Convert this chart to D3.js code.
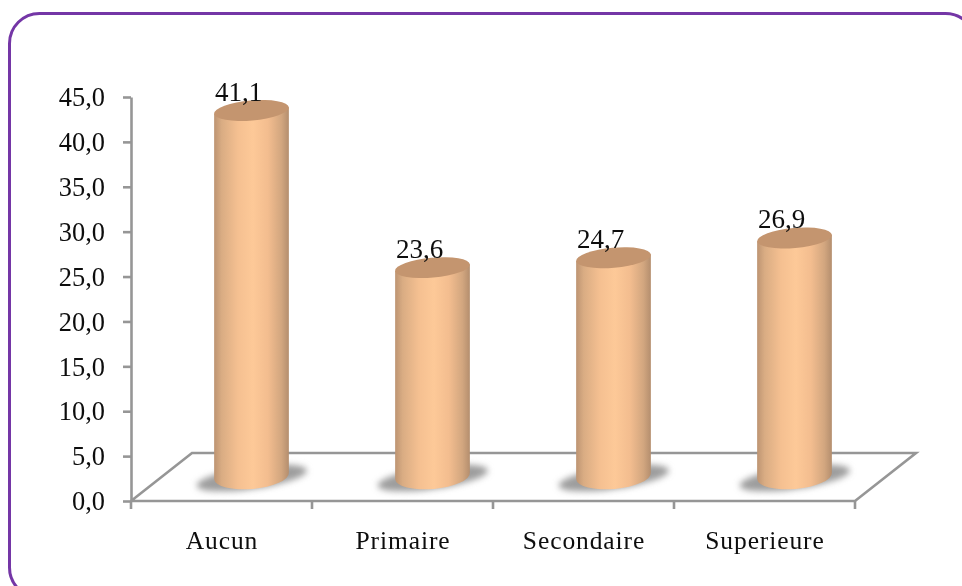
<!DOCTYPE html>
<html><head><meta charset="utf-8">
<script src="https://cdn.jsdelivr.net/npm/d3@7"></script>
<style>html,body{margin:0;padding:0;background:#fff;overflow:hidden}svg{display:block}
text{font-family:"Liberation Serif",serif;fill:#0c0c0c}</style></head><body>
<script>
const categories = ["Aucun","Primaire","Secondaire","Superieure"];
const values = [41.1,23.6,24.7,26.9];
const valueLabels = ["41,1","23,6","24,7","26,9"];
const yTicks = [0,5,10,15,20,25,30,35,40,45];

const W=962,H=586;
const svg=d3.select("body").append("svg").attr("width",W).attr("height",H);
const defs=svg.append("defs");
const grad=defs.append("linearGradient").attr("id","cyl").attr("x1",0).attr("x2",1).attr("y1",0).attr("y2",0);
[[0,"#bd9472"],[0.1,"#d9ac83"],[0.32,"#f5c091"],[0.52,"#fdc998"],[0.72,"#f3bd8f"],[0.9,"#d2a67f"],[1,"#b48e6e"]]
 .forEach(([o,c])=>grad.append("stop").attr("offset",o).attr("stop-color",c));
defs.append("filter").attr("id","blur").attr("x","-30%").attr("y","-60%").attr("width","160%").attr("height","220%")
 .append("feGaussianBlur").attr("stdDeviation",3);
defs.append("filter").attr("id","soft").attr("x","-5%").attr("y","-5%").attr("width","110%").attr("height","110%")
 .append("feGaussianBlur").attr("stdDeviation",0.5);

svg.append("rect").attr("x",9.5).attr("y",13.5).attr("width",966).attr("height",584).attr("rx",30)
  .attr("fill","none").attr("stroke","#7436a6").attr("stroke-width",3);

const pLeft=131,pRight=855,pBottom=501,pTop=97,dx=61,dy=48;
const x=d3.scaleBand().domain(categories).range([pLeft,pRight]);
const y=d3.scaleLinear().domain([0,45]).range([pBottom,pTop]);
const g=svg.append("g").attr("filter","url(#soft)");
const axisCol="#969696";

// floor
g.append("path").attr("fill","none").attr("stroke",axisCol).attr("stroke-width",2.6)
 .attr("d",d3.line()([[pLeft,pBottom],[pLeft+dx,pBottom-dy],[pRight+dx,pBottom-dy],[pRight,pBottom],[pLeft,pBottom]]));

// y axis
const ya=g.append("g").attr("transform",`translate(${pLeft},0)`)
 .call(d3.axisLeft(y).tickValues(yTicks).tickSize(8).tickSizeOuter(0).tickPadding(18).tickFormat(d=>d3.format(".1f")(d).replace(".",",")));
ya.selectAll("path,line").attr("stroke",axisCol).attr("stroke-width",2.6);
ya.selectAll("text").attr("font-size",26.4).attr("font-family","Liberation Serif").attr("fill","#0c0c0c").attr("dy","0.33em");

// x axis
const edges=[...categories.map(c=>x(c)),pRight];
g.selectAll(".xt").data(edges).join("line").attr("x1",d=>d).attr("x2",d=>d).attr("y1",pBottom).attr("y2",pBottom+8)
 .attr("stroke",axisCol).attr("stroke-width",2.6);
g.selectAll(".xl").data(categories).join("text")
 .attr("x",d=>x(d)+x.bandwidth()/2+0.5).attr("y",549).attr("text-anchor","middle")
 .attr("font-size",25.5).attr("letter-spacing",0.9).text(d=>d);

// cylinders
const rx=37.5, ryTop=10, ryBase=13, tilt=-5, shiftX=30, shiftY=23.5;
const cyl=svg.append("g").selectAll("g").data(categories).join("g");
cyl.each(function(c,i){
  const s=d3.select(this);
  const cx=x(c)+x.bandwidth()/2+shiftX;
  const yb=y(0)-shiftY-1.5, yt=y(values[i])-shiftY+2;
  s.append("ellipse").attr("cx",cx).attr("cy",yb+2)
    .attr("rx",rx+18).attr("ry",11).attr("transform",`rotate(-8 ${cx} ${yb})`)
    .attr("fill","#8c8c8c").attr("fill-opacity",.85).attr("filter","url(#blur)");
  const t=tilt*Math.PI/180, ax=rx*Math.cos(t), ay=rx*Math.sin(t);
  s.append("path").attr("fill","url(#cyl)").attr("d",
    `M${cx-ax},${yt-ay}L${cx-ax},${yb-ay}A${rx},${ryBase} ${tilt} 0 0 ${cx+ax},${yb+ay}L${cx+ax},${yt+ay}Z`);
  s.append("ellipse").attr("cx",cx).attr("cy",yt).attr("rx",rx).attr("ry",ryTop)
    .attr("transform",`rotate(${tilt} ${cx} ${yt})`).attr("fill","#c4956f");
  s.append("text").attr("x",cx-13).attr("y",yt-10).attr("text-anchor","middle")
    .attr("font-size",27).attr("filter","url(#soft)").text(valueLabels[i]);
});
</script></body></html>
